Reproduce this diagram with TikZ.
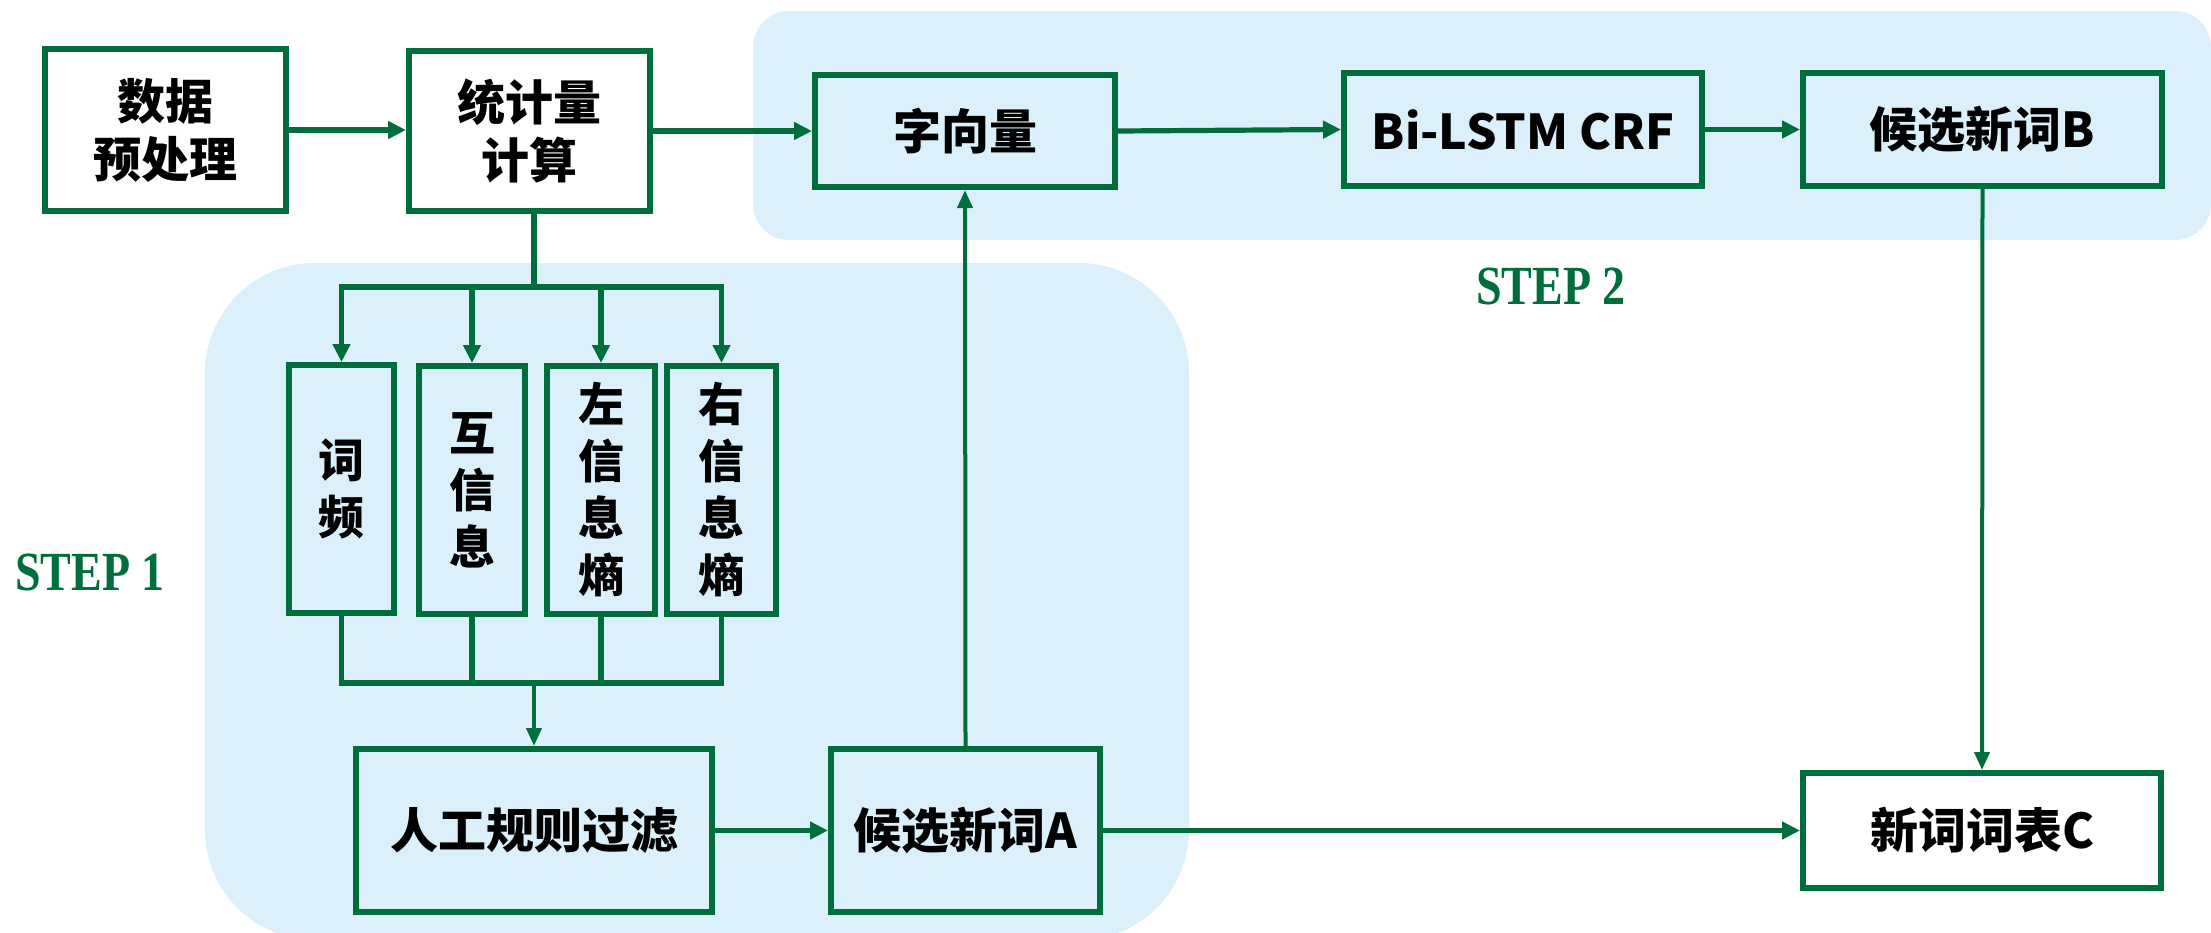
\documentclass[tikz,border=0pt]{standalone}
\usepackage{fontspec}
\setmainfont{Noto Sans CJK SC}
\newfontfamily\stepfont{Liberation Serif}
\usetikzlibrary{arrows.meta,calc}
\definecolor{G}{RGB}{0,110,60}
\definecolor{BG}{RGB}{220,240,251}
\begin{document}
\begin{tikzpicture}[x=0.5pt,y=-0.5pt,
  box/.style={draw=G, line width=3pt, align=center, inner sep=0pt,
    font=\fontsize{24}{29}\selectfont\bfseries},
  vbox/.style={box, minimum height=124pt, font=\fontsize{23}{28.5}\selectfont\bfseries},
  ln/.style={draw=G, line width=2.6pt},
  arr/.style={ln, -{Triangle[length=9pt,width=8.5pt]}},
  tarr/.style={draw=G, line width=2pt, -{Triangle[length=9pt,width=7.5pt]}},
  steplabel/.style={text=G, font=\stepfont\fontsize{23}{28}\selectfont\bfseries}]
\useasboundingbox (0,0) rectangle (2211,932);
\clip (0,0) rectangle (2211,932);
% background regions
\fill[BG, rounded corners=55pt] (205,263) rectangle (1189,940);
\fill[BG, rounded corners=18pt] (753,11) rectangle (2211,240);
% labels
\node[steplabel] (s1) at (90,572) {\scalebox{1}[1.2]{STEP 1}};
\node[steplabel] (s2) at (1551,286) {\scalebox{1}[1.2]{STEP 2}};
% top row
\node[box, minimum width=120.5pt, minimum height=81pt] (pre) at (165.5,130) {数据\\预处理};
\node[box, minimum width=120.5pt, minimum height=80pt] (stat) at (529.5,131) {统计量\\计算};
\node[box, minimum width=150pt, minimum height=56pt] (vec) at (965,131) {字向量};
\node[box, minimum width=179pt, minimum height=56.5pt] (lstm) at (1523,129.5) {Bi-LSTM CRF};
\node[box, minimum width=179.5pt, minimum height=56.5pt] (candB) at (1982.5,129.5) {候选新词B};
% statistics boxes
\node[vbox, minimum width=52.5pt] (tf) at (341.5,489) {词\\频};
\node[vbox, minimum width=53pt] (mi) at (472,490) {互\\信\\息};
\node[vbox, minimum width=54pt] (le) at (601,490) {左\\信\\息\\熵};
\node[vbox, minimum width=54.5pt] (re) at (721.5,490) {右\\信\\息\\熵};
% bottom row
\node[box, minimum width=178pt, minimum height=81.5pt] (filt) at (534,830.5) {人工规则过滤};
\node[box, minimum width=134.5pt, minimum height=81.5pt] (candA) at (965.5,830.5) {候选新词A};
\node[box, minimum width=179pt, minimum height=57.5pt] (C) at (1982,830.5) {新词词表C};
% bus coordinates
\coordinate (busT) at (534,287);
\coordinate (busB) at (534,683);
% connectors top row
\draw[arr] (pre.east) -- (pre.east -| stat.west);
\draw[arr] (stat.east) -- (vec.west);
\draw[arr] (vec.east) -- (lstm.west);
\draw[arr] (lstm.east) -- (candB.west);
% fan out
\draw[ln] (stat.south -| busT) -- (busT);
\draw[ln, line cap=rect] (tf.north |- busT) -- (re.north |- busT);
\draw[arr] (tf.north |- busT) -- (tf.north);
\draw[arr] (mi.north |- busT) -- (mi.north);
\draw[arr] (le.north |- busT) -- (le.north);
\draw[arr] (re.north |- busT) -- (re.north);
% fan in
\draw[ln] (tf.south) -- (tf.south |- busB);
\draw[ln] (mi.south) -- (mi.south |- busB);
\draw[ln] (le.south) -- (le.south |- busB);
\draw[ln] (re.south) -- (re.south |- busB);
\draw[ln, line cap=rect] (tf.south |- busB) -- (re.south |- busB);
\draw[tarr] (busB) -- (filt.north);
% bottom row
\draw[arr] (filt.east) -- (candA.west);
\draw[arr] (candA.east) -- (C.west);
\draw[tarr] (candA.north) -- (vec.south);
\draw[tarr] (candB.south) -- (C.north);
\end{tikzpicture}
\end{document}
